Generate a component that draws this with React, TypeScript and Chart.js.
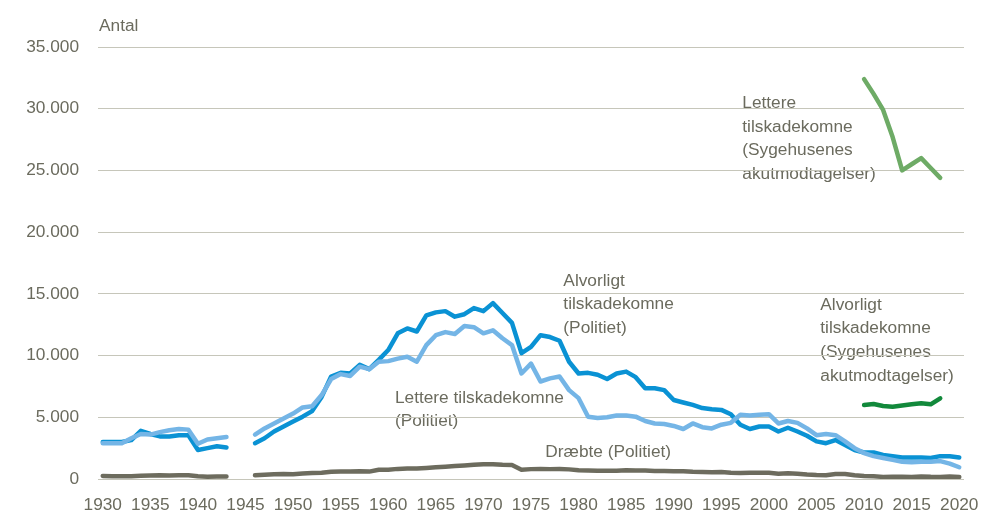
import React, { useEffect, useRef } from "react";
import { Chart, registerables } from "chart.js";

Chart.register(...registerables);

const years: number[] = [];
for (let y = 1930; y <= 2020; y++) years.push(y);

const alvorligtPolitiet: (number | null)[] = [
  3000, 3000, 3000, 3150, 3900, 3650, 3450, 3450, 3550, 3550,
  2350, 2500, 2650, 2550, null, null, 2900, 3300, 3850, 4250,
  4650, 5050, 5500, 6650, 8300, 8600, 8550, 9250, 8900, 9650,
  10450, 11800, 12200, 11950, 13250, 13500, 13600, 13150, 13350, 13850,
  13600, 14250, 13450, 12650, 10200, 10700, 11650, 11500, 11200, 9500,
  8550, 8600, 8450, 8100, 8550, 8700, 8250, 7350, 7350, 7200,
  6400, 6200, 6000, 5750, 5650, 5600, 5250, 4400, 4050, 4250,
  4250, 3850, 4150, 3850, 3500, 3050, 2900, 3150, 2750, 2350,
  2150, 2150, 1950, 1850, 1750, 1750, 1750, 1700, 1850, 1850,
  1750,
];

const letterePolitiet: (number | null)[] = [
  2900, 2900, 2900, 3300, 3650, 3600, 3800, 3950, 4050, 4000,
  2850, 3200, 3300, 3400, null, null, 3600, 4100, 4500, 4900,
  5300, 5800, 5900, 6800, 8100, 8500, 8350, 9100, 8900, 9500,
  9550, 9750, 9900, 9500, 10850, 11650, 11900, 11750, 12400, 12300,
  11800, 12050, 11400, 10850, 8550, 9350, 7900, 8150, 8300, 7200,
  6550, 5050, 4950, 5000, 5150, 5150, 5050, 4700, 4500, 4450,
  4300, 4050, 4500, 4200, 4100, 4400, 4550, 5200, 5150, 5200,
  5250, 4500, 4700, 4550, 4100, 3550, 3650, 3550, 3050, 2500,
  2100, 1850, 1700, 1550, 1400, 1350, 1400, 1400, 1450, 1250,
  950,
];

const draebtePolitiet: (number | null)[] = [
  250, 230, 220, 230, 260, 290, 300, 290, 300, 300,
  220, 190, 200, 200, null, null, 300, 350, 380, 400,
  380, 450, 480, 500, 580, 600, 600, 620, 600, 750,
  750, 820, 850, 850, 900, 950, 1000, 1050, 1100, 1150,
  1200, 1200, 1150, 1130, 750, 800, 820, 800, 820, 780,
  700, 680, 660, 660, 660, 700, 680, 680, 650, 650,
  630, 620, 580, 560, 550, 570, 510, 480, 500, 510,
  500, 430, 460, 430, 370, 330, 310, 400, 400, 300,
  250, 220, 170, 190, 180, 170, 210, 175, 170, 200,
  165,
];

// 2010-2018 (sygehusenes akutmodtagelser)
const alvorligtSygehus: number[] = [6000, 6080, 5920, 5860, 5950, 6050, 6130, 6050, 6540];
const lettereSygehus: number[] = [32400, 31200, 29900, 27700, 25000, 25500, 26000, 25200, 24400];
const sygehusStartYear = 2010;

const yTicks: number[] = [0, 5000, 10000, 15000, 20000, 25000, 30000, 35000];

const labels: { lines: string[]; year: number; value: number }[] = [
  { lines: ["Lettere", "tilskadekomne", "(Sygehusenes", "akutmodtagelser)"], year: 1997.2, value: 30450 },
  { lines: ["Alvorligt", "tilskadekomne", "(Politiet)"], year: 1978.4, value: 16050 },
  { lines: ["Lettere tilskadekomne", "(Politiet)"], year: 1960.7, value: 6560 },
  { lines: ["Dræbte (Politiet)"], year: 1976.5, value: 2190 },
  { lines: ["Alvorligt", "tilskadekomne", "(Sygehusenes", "akutmodtagelser)"], year: 2005.4, value: 14100 },
];

const TEXT = "#6b6b5e";
const FONT = "'Liberation Sans', Arial, sans-serif";

function fmt(v: number): string {
  return String(v).replace(/\B(?=(\d{3})+(?!\d))/g, ".");
}

function padSygehus(vals: number[]): (number | null)[] {
  return years.map((y) => {
    const i = y - sygehusStartYear;
    return i >= 0 && i < vals.length ? vals[i] : null;
  });
}

export default function App() {
  const ref = useRef<HTMLCanvasElement | null>(null);

  useEffect(() => {
    if (!ref.current) return;
    const labelPlugin = {
      id: "labels",
      beforeDraw(chart: any) {
        const { ctx, scales } = chart;
        const x = scales.x;
        const y = scales.y;
        ctx.save();
        ctx.font = `17.3px ${FONT}`;
        ctx.fillStyle = TEXT;
        ctx.textBaseline = "middle";
        ctx.textAlign = "left";
        for (const l of labels) {
          const px = x.getPixelForValue(l.year - years[0]);
          const py = y.getPixelForValue(l.value);
          l.lines.forEach((t, i) => ctx.fillText(t, px, py + i * 23.6));
        }
        ctx.fillText("Antal", chart.chartArea.left + 1, y.getPixelForValue(35000) - 21);
        ctx.restore();
      },
    };

    const common = {
      pointRadius: 0,
      borderWidth: 4.5,
      tension: 0,
      spanGaps: false,
      borderCapStyle: "round" as const,
      borderJoinStyle: "round" as const,
      fill: false,
    };

    const chart = new Chart(ref.current, {
      type: "line",
      data: {
        labels: years.map(String),
        datasets: [
          { ...common, label: "Lettere tilskadekomne (Politiet)", data: letterePolitiet, borderColor: "#74b5e6" },
          { ...common, label: "Alvorligt tilskadekomne (Politiet)", data: alvorligtPolitiet, borderColor: "#0a92d4" },
          { ...common, label: "Dræbte (Politiet)", data: draebtePolitiet, borderColor: "#6d6c5e" },
          { ...common, label: "Alvorligt tilskadekomne (Sygehusenes akutmodtagelser)", data: padSygehus(alvorligtSygehus), borderColor: "#12893b" },
          { ...common, label: "Lettere tilskadekomne (Sygehusenes akutmodtagelser)", data: padSygehus(lettereSygehus), borderColor: "#6eab66" },
        ],
      },
      options: {
        animation: false,
        responsive: false,
        maintainAspectRatio: false,
        layout: { padding: { top: 47, right: 29, left: 0, bottom: 0 } },
        plugins: {
          legend: { display: false },
          tooltip: { enabled: false },
          title: { display: false },
        },
        scales: {
          x: {
            type: "category",
            offset: true,
            grid: { display: false },
            border: { display: false },
            ticks: {
              autoSkip: false,
              maxRotation: 0,
              minRotation: 0,
              padding: 8,
              color: TEXT,
              font: { family: FONT, size: 17.3 },
              callback: (_v: any, i: number) => (years[i] % 5 === 0 ? String(years[i]) : ""),
            },
            afterFit: (s: any) => {
              s.height = 34;
            },
          },
          y: {
            min: 0,
            max: 35000,
            afterBuildTicks: (s: any) => {
              s.ticks = yTicks.map((v) => ({ value: v }));
            },
            grid: { color: "#c6c6ba", lineWidth: 1, drawTicks: false },
            border: { display: false },
            ticks: {
              padding: 19,
              color: TEXT,
              font: { family: FONT, size: 17.3 },
              callback: (v: any) => fmt(Number(v)),
            },
            afterFit: (s: any) => {
              s.width = 98;
            },
          },
        },
      },
      plugins: [labelPlugin],
    });
    return () => chart.destroy();
  }, []);

  return (
    <div style={{ position: "absolute", left: 0, top: 0, width: 993, height: 513, background: "#fff" }}>
      <canvas ref={ref} width={993} height={513} style={{ display: "block", width: 993, height: 513 }} />
    </div>
  );
}
